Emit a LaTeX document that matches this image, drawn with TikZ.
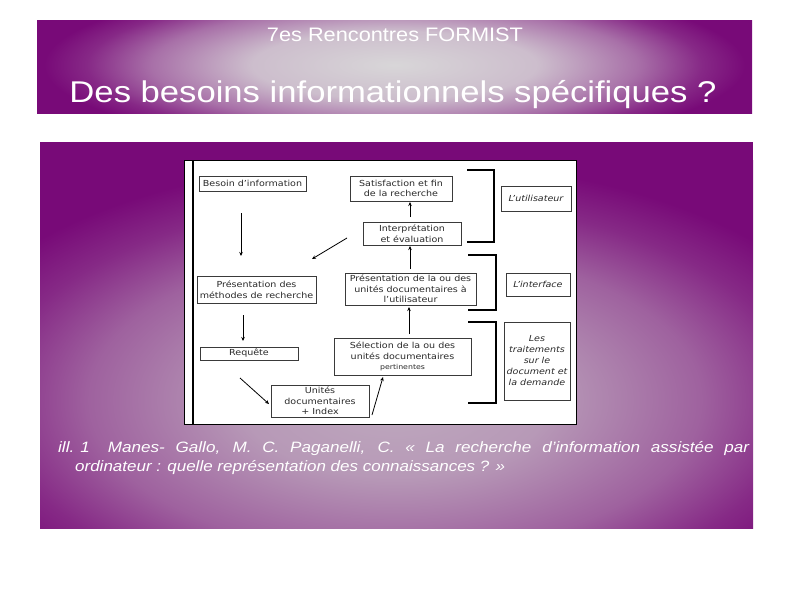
\documentclass[tikz,border=0pt]{standalone}
\usepackage{fontspec}
\setmainfont{Liberation Sans}
\newfontfamily\diagfont[FakeStretch=1.15]{DejaVu Sans}
\newfontfamily\capfont[FakeStretch=1.14]{Liberation Sans}
\usetikzlibrary{arrows.meta}
\definecolor{purp}{HTML}{780A78}
\definecolor{bannerlight}{HTML}{D8D6D8}
\colorlet{bannermidA}{bannerlight!88!purp}
\colorlet{bannermidB}{bannerlight!50!purp}
\colorlet{bannermidC}{bannerlight!15!purp}
\definecolor{panellight}{HTML}{BEA9BE}
\colorlet{panelmidA}{panellight!90!purp}
\colorlet{panelmidB}{panellight!55!purp}
\colorlet{panelmidC}{panellight!20!purp}
\definecolor{boxline}{HTML}{3A3A3A}
\definecolor{boxtext}{HTML}{2A2A2A}
\pgfdeclareradialshading{bannershade}{\pgfpoint{0bp}{0bp}}{color(0bp)=(bannerlight); color(10bp)=(bannermidA); color(17bp)=(bannermidB); color(21.5bp)=(bannermidC); color(24.5bp)=(purp); color(50bp)=(purp)}
\pgfdeclareradialshading{panelshade}{\pgfpoint{0bp}{0bp}}{color(0bp)=(panellight); color(8bp)=(panelmidA); color(16bp)=(panelmidB); color(21bp)=(panelmidC); color(25bp)=(purp); color(50bp)=(purp)}
\tikzset{
  dbox/.style={draw=boxline, line width=0.8pt, fill=white, inner sep=0pt, align=center,
    text=boxtext, font=\diagfont\fontsize{8.3}{10.5}\selectfont},
  ibox/.style={dbox, font=\diagfont\itshape\fontsize{8.3}{11}\selectfont},
  arr/.style={draw=black, line width=0.8pt, -{Stealth[length=4pt,width=3.5pt]}},
  brack/.style={draw=black, line width=2pt},
  slidetext/.style={text=white, inner sep=0pt}
}
\begin{document}
\begin{tikzpicture}[x=1pt,y=-1pt]
\useasboundingbox (0,0) rectangle (794,595);
\fill[white] (0,0) rectangle (794,595);
% banner
\begin{scope}
  \clip (37,20) rectangle (752,113);
  \fill[purp] (37,20) rectangle (752,113);
  \shade[shading=bannershade] (37,-20) rectangle (752,150);
\end{scope}
\node[slidetext, font=\fontsize{19.5}{22}\selectfont] (sub) at (395,35) {\resizebox{256pt}{\height}{7es Rencontres FORMIST}};
\node[slidetext, font=\fontsize{30}{34}\selectfont] (title) at (393,95) {\resizebox{647pt}{\height}{Des besoins informationnels spécifiques ?}};
% panel
\begin{scope}
  \clip (40,142) rectangle (753,528);
  \fill[purp] (40,142) rectangle (753,528);
  \shade[shading=panelshade] (-85,160) rectangle (875,640);
\end{scope}
% diagram image
\fill[white] (184,160) rectangle (576,424);
\draw[black, line width=0.8pt] (184,160) rectangle (576,424);
\draw[black, line width=1.2pt] (193,160) -- (193,424);
% boxes
\node[dbox, minimum width=107pt, minimum height=15pt] (besoin) at (252.5,183.5) {Besoin d’information};
\node[dbox, minimum width=102pt, minimum height=25pt] (satisf) at (401,188.5) {Satisfaction et fin\\de la recherche};
\node[dbox, minimum width=98pt, minimum height=23pt] (interp) at (412,233.5) {Interprétation\\et évaluation};
\node[dbox, minimum width=119pt, minimum height=27pt] (presmeth) at (256.5,289.5) {Présentation des\\méthodes de recherche};
\node[dbox, minimum width=131pt, minimum height=32pt] (presunit) at (410.5,289) {Présentation de la ou des\\unités documentaires à\\l’utilisateur};
\node[dbox, minimum width=98pt, minimum height=13pt] (requete) at (249,353.5) {Requête};
\node[dbox, minimum width=137pt, minimum height=37pt] (select) at (402.5,356.5) {Sélection de la ou des\\unités documentaires\\{\fontsize{6.8}{9}\selectfont pertinentes}};
\node[dbox, minimum width=98pt, minimum height=32pt] (unites) at (320,401) {Unités\\documentaires\\+ Index};
\node[ibox, minimum width=70pt, minimum height=25pt] (lutil) at (536,198.5) {L’utilisateur};
\node[ibox, minimum width=64pt, minimum height=23pt] (linterf) at (538,284.5) {L’interface};
\node[ibox, minimum width=66pt, minimum height=78pt] (trait) at (537,361) {Les\\traitements\\sur le\\document et\\la demande};
% brackets
\draw[brack] (467,170) -- (494,170) -- (494,242) -- (467,242);
\draw[brack] (468,255) -- (496,255) -- (496,310) -- (468,310);
\draw[brack] (468,322) -- (496,322) -- (496,403) -- (468,403);
% arrow end points
\coordinate (a1s) at (241,213); \coordinate (a1e) at (241,256);
\coordinate (a2s) at (347,238); \coordinate (a2e) at (312,259);
\coordinate (a3s) at (410,217); \coordinate (a3e) at (410,202);
\coordinate (a4s) at (410,269); \coordinate (a4e) at (410,246);
\coordinate (a5s) at (243,315); \coordinate (a5e) at (243,341);
\coordinate (a6s) at (240,378); \coordinate (a6e) at (269,404);
\coordinate (a7s) at (372,415); \coordinate (a7e) at (383,377);
\coordinate (a8s) at (409,334); \coordinate (a8e) at (409,307);
\draw[arr] (a1s) -- (a1e);
\draw[arr] (a2s) -- (a2e);
\draw[arr] (a3s) -- (a3e);
\draw[arr] (a4s) -- (a4e);
\draw[arr] (a5s) -- (a5e);
\draw[arr] (a6s) -- (a6e);
\draw[arr] (a7s) -- (a7e);
\draw[arr] (a8s) -- (a8e);
% caption
\node[slidetext, anchor=west, font=\capfont\itshape\fontsize{15}{18}\selectfont] (cap1) at (58,449) {\makebox[691pt][s]{ill.\kern6pt1\kern18pt Manes- Gallo, M. C. Paganelli, C. « La recherche d’information assistée par}};
\node[slidetext, anchor=west, font=\capfont\itshape\fontsize{15}{18}\selectfont] (cap2) at (75,468) {\resizebox{430pt}{\height}{ordinateur : quelle représentation des connaissances ? »}};
\end{tikzpicture}
\end{document}
